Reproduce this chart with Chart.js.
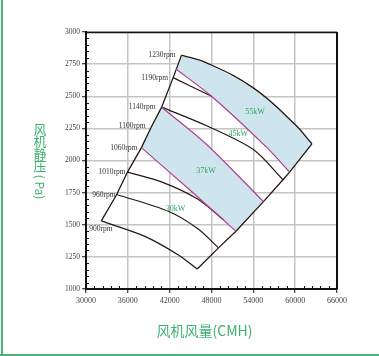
<!DOCTYPE html>
<html>
<head>
<meta charset="utf-8">
<script src="https://cdn.jsdelivr.net/npm/chart.js@4.4.1/dist/chart.umd.min.js"></script>
<style>
  html, body { margin: 0; padding: 0; background: #ffffff; }
  #wrap { width: 379px; height: 356px; }
</style>
</head>
<body>
<div id="wrap"><canvas id="c" width="379" height="356"></canvas></div>
<script>
// Axis ticks
const xTicks = [30000, 36000, 42000, 48000, 54000, 60000, 66000];
const yTicks = [1000, 1250, 1500, 1750, 2000, 2250, 2500, 2750, 3000];

// Speed lines: start points on the surge (left) edge
const rpmNames = ['900rpm', '960rpm', '1010rpm', '1060rpm', '1100rpm', '1140rpm', '1190rpm', '1230rpm'];
const surgeX = [32200, 34400, 35950, 37950, 39400, 40850, 42500, 43700];
const surgeY = [1530, 1735, 1910, 2100, 2265, 2415, 2645, 2820];

// Speed curves (visible parts)
const curve1230X = [43700, 47300, 54000, 60000, 62400];
const curve1230Y = [2820, 2760, 2565, 2280, 2130];
const curve1190X = [42500, 48000];
const curve1190Y = [2645, 2500];
const curve1140X = [40850, 47300, 54000, 58250];
const curve1140Y = [2415, 2270, 2085, 1850];
const curve1010X = [35950, 41000, 46000, 49700];
const curve1010Y = [1910, 1830, 1700, 1540];
const curve960X = [34400, 41800, 46000, 49000];
const curve960Y = [1735, 1605, 1470, 1320];
const curve900X = [32200, 38450, 43250, 45950];
const curve900Y = [1530, 1410, 1265, 1155];

// Right (maximum flow) edge, top to bottom
const edgeX = [62400, 59200, 58250, 55450, 51500, 49000, 45950];
const edgeY = [2130, 1910, 1850, 1680, 1450, 1320, 1155];

// Motor power limit lines
const limit55X = [42950, 48000, 55950, 59200];
const limit55Y = [2710, 2500, 2100, 1910];
const limit45X = [40850, 47300, 55450];
const limit45Y = [2415, 2125, 1680];
const limit37X = [37950, 44900, 49950, 51500];
const limit37Y = [2100, 1770, 1525, 1450];

// Power band labels
const powerNames = ['55kW', '45kW', '37kW', '30kW'];
const powerX = [54250, 51850, 47200, 42850];
const powerY = [2380, 2210, 1920, 1625];

const pts = (xs, ys) => xs.map((x, i) => ({ x: x, y: ys[i] }));
const rev = (a) => a.slice().reverse();

const BLACK = '#231815';
const MAGENTA = '#b13d91';
const BAND = '#cfe5ed';
const GREEN = '#3cb371';

// 55kW band: top speed curve, right edge, 55kW limit back to the surge line
const band55 = pts(
  curve1230X.concat([edgeX[1]], rev(limit55X)),
  curve1230Y.concat([edgeY[1]], rev(limit55Y))
);
// 37kW band: surge edge 1140 -> 1060, 37kW limit, right edge, 45kW limit back
const band37 = pts(
  [surgeX[5], surgeX[4]].concat(limit37X, [edgeX[3]], rev(limit45X)),
  [surgeY[5], surgeY[4]].concat(limit37Y, [edgeY[3]], rev(limit45Y))
);

function line(data, color, width, tension) {
  return {
    data: data, showLine: true, borderColor: color, borderWidth: width,
    pointRadius: 0, pointHoverRadius: 0, fill: false, tension: tension, order: 1
  };
}

const datasets = [
  { data: band55, showLine: true, borderWidth: 0, borderColor: 'rgba(0,0,0,0)',
    backgroundColor: BAND, fill: 'shape', pointRadius: 0, tension: 0, order: 5 },
  { data: band37, showLine: true, borderWidth: 0, borderColor: 'rgba(0,0,0,0)',
    backgroundColor: BAND, fill: 'shape', pointRadius: 0, tension: 0, order: 5 },
  line(pts(limit55X, limit55Y), MAGENTA, 1.2, 0.3),
  line(pts(limit45X, limit45Y), MAGENTA, 1.2, 0.3),
  line(pts(limit37X, limit37Y), MAGENTA, 1.2, 0.3),
  line(pts(surgeX, surgeY), BLACK, 1.3, 0),
  line(pts(edgeX, edgeY), BLACK, 1.3, 0),
  line(pts(curve1230X, curve1230Y), BLACK, 1.3, 0.4),
  line(pts(curve1190X, curve1190Y), BLACK, 1.2, 0.3),
  line(pts(curve1140X, curve1140Y), BLACK, 1.2, 0.3),
  line(pts(curve1010X, curve1010Y), BLACK, 1.2, 0.3),
  line(pts(curve960X, curve960Y), BLACK, 1.2, 0.3),
  line(pts(curve900X, curve900Y), BLACK, 1.3, 0.3)
];

// label gaps to the left of each speed start point
const rpmGap = [0, 1, 2, 4, 6, 6, 5, 6];

const decor = {
  id: 'decor',
  afterDraw(chart) {
    const ctx = chart.ctx;
    const a = chart.chartArea;
    const xs = chart.scales.x, ys = chart.scales.y;
    ctx.save();

    // top and right frame
    ctx.strokeStyle = '#111';
    ctx.lineWidth = 1.5;
    ctx.beginPath();
    ctx.moveTo(a.left, a.top + 0.5);
    ctx.lineTo(a.right, a.top + 0.5);
    ctx.stroke();
    ctx.lineWidth = 2;
    ctx.beginPath();
    ctx.moveTo(a.right, a.top);
    ctx.lineTo(a.right, a.bottom);
    ctx.stroke();

    // minor ticks, pointing into the plot
    ctx.lineWidth = 1;
    ctx.strokeStyle = '#111';
    ctx.beginPath();
    for (let v = 1000; v <= 3000; v += 50) {
      if (v % 250 === 0) continue;
      const y = Math.round(ys.getPixelForValue(v)) + 0.5;
      ctx.moveTo(a.left, y); ctx.lineTo(a.left + 3, y);
    }
    for (let v = 30000; v <= 66000; v += 1200) {
      if (v % 6000 === 0) continue;
      const x = Math.round(xs.getPixelForValue(v)) + 0.5;
      ctx.moveTo(x, a.bottom); ctx.lineTo(x, a.bottom - 3);
    }
    ctx.stroke();

    // speed labels
    ctx.fillStyle = '#333';
    ctx.font = '7.5px "Liberation Serif", "DejaVu Serif", serif';
    ctx.textBaseline = 'middle';
    rpmNames.forEach((name, i) => {
      const px = xs.getPixelForValue(surgeX[i]);
      const py = ys.getPixelForValue(surgeY[i]);
      if (i === 0) {
        ctx.textAlign = 'left';
        ctx.fillText(name, px - 12, py + 8);
      } else {
        ctx.textAlign = 'right';
        ctx.fillText(name, px - rpmGap[i], py);
      }
    });

    // power labels
    ctx.fillStyle = '#2ea862';
    ctx.font = '8px "Liberation Serif", "DejaVu Serif", serif';
    ctx.textAlign = 'center';
    powerNames.forEach((name, i) => {
      ctx.fillText(name, xs.getPixelForValue(powerX[i]), ys.getPixelForValue(powerY[i]));
    });

    // axis titles
    ctx.fillStyle = GREEN;
    ctx.font = '14px "Noto Sans CJK SC", sans-serif';
    ctx.textAlign = 'center';
    ctx.textBaseline = 'middle';
    ctx.fillText('风机风量(CMH)', (a.left + a.right) / 2 - 7, 331);

    ctx.font = '13px "Noto Sans CJK SC", sans-serif';
    const chars = ['风', '机', '静', '压'];
    chars.forEach((ch, i) => ctx.fillText(ch, 40, 129 + i * 12.5));
    ctx.save();
    ctx.translate(40, 187);
    ctx.rotate(Math.PI / 2);
    ctx.font = '12px "Noto Sans CJK SC", sans-serif';
    ctx.fillText('( Pa)', 0, 0);
    ctx.restore();

    // outer frame lines
    ctx.fillStyle = '#4cb27a';
    ctx.fillRect(1, 0, 2, 356);
    ctx.fillRect(0, 354, 379, 2);
    ctx.restore();
  }
};

const tickFont = { family: '"Liberation Serif", "DejaVu Serif", serif', size: 8 };

new Chart(document.getElementById('c'), {
  type: 'scatter',
  data: { datasets: datasets },
  options: {
    responsive: false,
    animation: false,
    devicePixelRatio: 1,
    layout: { padding: { top: 32, right: 42, bottom: 0, left: 0 } },
    plugins: { legend: { display: false }, tooltip: { enabled: false } },
    scales: {
      x: {
        type: 'linear', min: 30000, max: 66000,
        afterBuildTicks: (s) => { s.ticks = xTicks.map(v => ({ value: v })); },
        afterFit: (s) => { s.height = 67; },
        ticks: { font: tickFont, color: '#444', padding: 3, maxRotation: 0, callback: (v) => String(v) },
        grid: { color: '#c4c4c4', lineWidth: 1.5, tickLength: 4, tickColor: '#111', tickWidth: 1 },
        border: { color: '#111', width: 2 }
      },
      y: {
        type: 'linear', min: 1000, max: 3000,
        afterBuildTicks: (s) => { s.ticks = yTicks.map(v => ({ value: v })); },
        afterFit: (s) => { s.width = 86; },
        ticks: { font: { family: tickFont.family, size: 7.5 }, color: '#444', padding: 2, callback: (v) => String(v) },
        grid: { color: '#c4c4c4', lineWidth: 1.5, tickLength: 4, tickColor: '#111', tickWidth: 1 },
        border: { color: '#111', width: 2 }
      }
    }
  },
  plugins: [decor]
});
</script>
</body>
</html>
